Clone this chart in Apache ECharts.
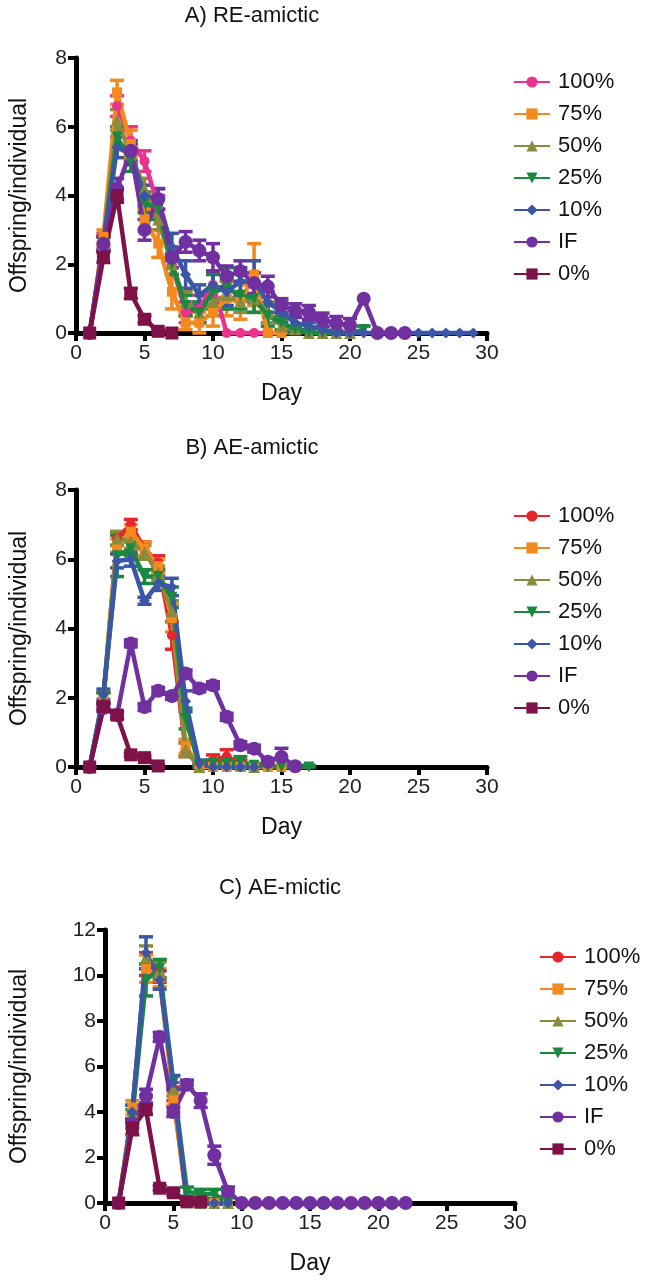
<!DOCTYPE html>
<html><head><meta charset="utf-8">
<script src="https://cdn.jsdelivr.net/npm/echarts@6/dist/echarts.min.js"></script>
<style>html,body{margin:0;padding:0;background:#fff;width:647px;height:1280px;overflow:hidden}
.p{position:absolute;left:0;width:647px}</style></head>
<body>
<div id="a" class="p" style="top:0;height:432px"></div>
<div id="b" class="p" style="top:432px;height:440px"></div>
<div id="c" class="p" style="top:872px;height:408px"></div>
<script>
const names = ['100%','75%','50%','25%','10%','IF','0%'];
const xTicks = [0,5,10,15,20,25,30];
// Panel A: RE-amictic (values from day 1)
const A_100 = [0,2.7,6.6,5.6,5.0,3.7,2.0,0.6,0.7,1.4,0,0,0,0,0];
const A_100e = [0,0.2,0.3,0.4,0.3,0.3,0.3,0.3,0.4,0.4,0,0,0,0,0];
const A_75 = [0,2.8,7.0,5.5,3.3,2.6,1.2,0.3,0.3,0.6,1.0,0.9,1.7,0,0];
const A_75e = [0,0.2,0.35,0.4,0.3,0.4,0.5,0.2,0.3,0.4,0.5,0.5,0.9,0,0];
const A_50 = [0,2.6,6.2,5.2,4.2,3.3,2.0,0.9,0.6,0.9,1.1,0.9,1.0,0.6,0.2,0.1,0,0,0,0];
const A_50e = [0,0.2,0.3,0.3,0.3,0.3,0.3,0.3,0.3,0.4,0.4,0.3,0.4,0.3,0.2,0.1,0,0,0,0];
const A_25 = [0,2.6,5.7,5.0,3.8,3.6,2.0,0.8,0.6,1.2,1.3,1.1,1.0,0.5,0.3,0.1,0,0,0,0,0.1];
const A_25e = [0,0.2,0.3,0.3,0.3,0.3,0.3,0.3,0.3,0.5,0.6,0.4,0.4,0.3,0.2,0.1,0,0,0,0,0.1];
const A_10 = [0,2.6,5.4,5.2,4.0,3.9,2.5,1.7,1.1,1.4,1.2,1.5,1.5,0.9,0.6,0.3,0.2,0.1,0,0,0,0,0,0,0,0,0,0,0];
const A_10e = [0,0.2,0.3,0.3,0.3,0.3,0.4,0.4,0.3,0.4,0.4,0.4,0.6,0.3,0.3,0.2,0.1,0.1,0,0,0,0,0,0,0,0,0,0,0];
const A_IF = [0,2.6,4.2,5.3,3.0,3.9,2.2,2.65,2.4,2.2,1.65,1.8,1.45,1.35,0.8,0.65,0.6,0.38,0.28,0.22,1.0,0,0,0];
const A_IFe = [0,0.2,0.3,0.3,0.3,0.3,0.3,0.3,0.3,0.4,0.3,0.3,0.3,0.3,0.2,0.2,0.2,0.2,0.2,0.2,0,0,0,0];
const A_0 = [0,2.2,4.0,1.15,0.4,0.05,0];
const A_0e = [0,0.15,0.2,0.15,0.1,0.05,0];
// Panel B: AE-amictic
const B_100 = [0,2.0,6.6,7.0,6.3,5.9,3.8,0.5,0,0.2,0.3,0.1,0];
const B_100e = [0,0.15,0.2,0.15,0.2,0.2,0.4,0.2,0,0.15,0.2,0.1,0];
const B_75 = [0,2.0,6.4,6.8,6.3,5.8,4.3,0.6,0,0,0,0,0,0,0];
const B_75e = [0,0.15,0.2,0.2,0.2,0.2,0.4,0.2,0,0,0,0,0,0,0];
const B_50 = [0,2.0,6.6,6.5,6.2,5.6,4.5,0.5,0,0.1,0.1,0.05,0];
const B_50e = [0,0.15,0.2,0.2,0.2,0.2,0.3,0.2,0,0.1,0.1,0.05,0];
const B_25 = [0,2.0,6.1,6.3,5.5,5.5,4.9,1.4,0.05,0.1,0.1,0.15,0.05,0,0,0,0];
const B_25e = [0,0.15,0.6,0.2,0.2,0.2,0.3,0.3,0.05,0.1,0.1,0.15,0.05,0,0,0,0.05];
const B_10 = [0,2.1,5.95,6.0,4.8,5.3,5.2,1.9,0.1,0,0,0,0];
const B_10e = [0,0.15,0.2,0.2,0.1,0.2,0.25,0.3,0.1,0,0,0,0];
const B_IF = [0,1.7,1.5,3.57,1.73,2.2,2.05,2.7,2.27,2.36,1.45,0.63,0.53,0.15,0.29,0.02];
const B_IFe = [0,0.1,0.1,0.1,0.1,0.1,0.1,0.1,0.1,0.1,0.1,0.1,0.1,0.1,0.25,0.02];
const B_0 = [0,1.75,1.5,0.35,0.27,0.03];
const B_0e = [0,0.1,0.1,0.05,0.05,0.02];
// Panel C: AE-mictic
const C_100 = [0,4.0,10.5,10.2,4.8,0,0.1,0,0];
const C_100e = [0,0.3,0.5,0.5,0.3,0,0.1,0,0];
const C_75 = [0,4.2,10.3,9.9,4.6,0.1,0,0,0];
const C_75e = [0,0.3,0.6,0.4,0.3,0.1,0,0,0];
const C_50 = [0,4.0,10.8,10.2,5.0,0.1,0,0,0];
const C_50e = [0,0.3,0.5,0.4,0.3,0.1,0,0,0];
const C_25 = [0,3.8,9.8,10.3,5.3,0.5,0.4,0.4,0];
const C_25e = [0,0.3,0.7,0.4,0.3,0.2,0.2,0.2,0];
const C_10 = [0,4.0,11.0,9.8,5.3,0,0,0,0];
const C_10e = [0,0.3,0.7,0.4,0.3,0,0,0,0];
const C_IF = [0,3.5,4.7,7.3,4.0,5.2,4.5,2.1,0.5,0,0,0,0,0,0,0,0,0,0,0,0,0];
const C_IFe = [0,0.2,0.3,0.2,0.2,0.2,0.3,0.4,0.2,0,0,0,0,0,0,0,0,0,0,0,0,0];
const C_0 = [0,3.3,4.1,0.65,0.45,0.05,0.05];
const C_0e = [0,0.3,0.2,0.1,0.1,0.05,0.05];

const col100A = '#E9338C', col100 = '#E5262B';
const colors = ['#F28A20','#8B8B3B','#1A8940','#3A56A5','#7030A0','#7D1148'];
const downTri = 'path://M0,0 L10,0 L5,9 Z';
const symbols = ['circle','rect','triangle',downTri,'diamond','circle','rect'];
const sizes = [10,10,12,11,11,14,13];
const FONT = 'Liberation Sans, Arial, sans-serif';

function pts(v){ return v.map((y,i)=>[i+1,y]); }
function errs(v,e){ return v.map((y,i)=>[i+1, Math.max(0,y-e[i]), y+e[i]]); }

function panel(id, cfg){
  const chart = echarts.init(document.getElementById(id), null, {renderer:'canvas'});
  const cols = [cfg.c100].concat(colors);
  const series = [];
  cfg.vals.forEach((v,k)=>{
    const c = cols[k];
    series.push({
      type:'custom', name:names[k]+' err', silent:true,
      data: errs(v, cfg.errs[k]), encode:{x:0,y:[1,2]},
      renderItem:function(params, api){
        const x=api.value(0), lo=api.value(1), hi=api.value(2);
        if (hi-lo <= 0.001) return null;
        const p1=api.coord([x,lo]), p2=api.coord([x,hi]); const w=7;
        const st={stroke:c,lineWidth:3.5};
        return {type:'group', children:[
          {type:'line', shape:{x1:p1[0],y1:p1[1],x2:p2[0],y2:p2[1]}, style:st},
          {type:'line', shape:{x1:p2[0]-w,y1:p2[1],x2:p2[0]+w,y2:p2[1]}, style:st},
          {type:'line', shape:{x1:p1[0]-w,y1:p1[1],x2:p1[0]+w,y2:p1[1]}, style:st}
        ]};
      }
    });
    series.push({
      type:'line', name:names[k], data:pts(v), symbol:symbols[k], symbolSize:sizes[k],
      showAllSymbol:true, animation:false,
      lineStyle:{color:c,width:4.5}, itemStyle:{color:c}, clip:false
    });
  });
  chart.setOption({
    animation:false,
    textStyle:{fontFamily:FONT},
    graphic:[{type:'text', x:cfg.titleX, y:cfg.titleY, style:{text:cfg.title, font:'22px '+FONT, fill:'#111', align:'center', verticalAlign:'middle'}}],
    legend:{orient:'vertical', left:cfg.legX, top:cfg.legY, data:names, itemWidth:36, itemHeight:14, itemGap:10,
      textStyle:{fontSize:22, color:'#111', fontFamily:FONT, lineHeight:22, padding:[0,0,0,3]}},
    grid:{left:cfg.left, top:cfg.top, width:cfg.w, height:cfg.h, containLabel:false},
    xAxis:{type:'value', min:0, max:30, interval:5, name:'Day', nameLocation:'middle', nameGap:49,
      nameTextStyle:{fontSize:23, color:'#111', fontFamily:FONT},
      axisLine:{lineStyle:{color:'#000', width:5}}, axisTick:{length:8, lineStyle:{color:'#000', width:4}},
      axisLabel:{fontSize:21, color:'#222', margin:10, fontFamily:FONT}, splitLine:{show:false}},
    yAxis:{type:'value', min:0, max:cfg.ymax, interval:2, name:'Offspring/individual', nameLocation:'middle', nameGap:cfg.yGap,
      nameTextStyle:{fontSize:23, color:'#111', fontFamily:FONT},
      axisLine:{lineStyle:{color:'#000', width:5}}, axisTick:{length:8, lineStyle:{color:'#000', width:4}},
      axisLabel:{fontSize:21, color:'#222', margin:9, fontFamily:FONT}, splitLine:{show:false}},
    series:series
  });
}

panel('a',{title:'A) RE-amictic', titleX:252, titleY:16, left:70, top:58, w:417, h:275, ymax:8, yGap:45,
  legX:508, legY:66, c100:col100A,
  vals:[A_100,A_75,A_50,A_25,A_10,A_IF,A_0], errs:[A_100e,A_75e,A_50e,A_25e,A_10e,A_IFe,A_0e]});
panel('b',{title:'B) AE-amictic', titleX:252, titleY:16, left:70, top:58, w:417, h:277, ymax:8, yGap:45,
  legX:508, legY:68, c100:col100,
  vals:[B_100,B_75,B_50,B_25,B_10,B_IF,B_0], errs:[B_100e,B_75e,B_50e,B_25e,B_10e,B_IFe,B_0e]});
panel('c',{title:'C) AE-mictic', titleX:280, titleY:16, left:100, top:58, w:415, h:277, ymax:12, yGap:74,
  legX:534, legY:69, c100:col100,
  vals:[C_100,C_75,C_50,C_25,C_10,C_IF,C_0], errs:[C_100e,C_75e,C_50e,C_25e,C_10e,C_IFe,C_0e]});
</script>
</body></html>
